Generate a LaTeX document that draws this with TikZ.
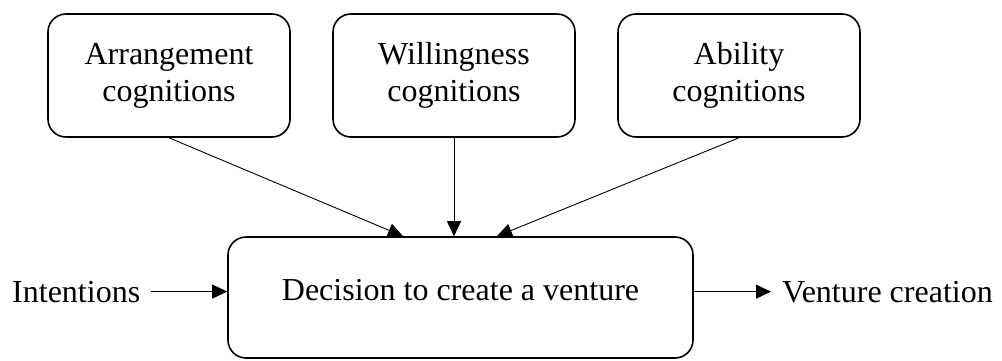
\documentclass[tikz,border=0pt]{standalone}
\usepackage{fontspec}
\setmainfont{Liberation Serif}
\usetikzlibrary{arrows.meta,calc}
\begin{document}
\begin{tikzpicture}[x=1pt,y=-1pt,
  txt/.style={font=\fontsize{32}{37}\selectfont},
  boxframe/.style={draw,line width=1.6pt,rounded corners=18pt},
  cogbox/.style={boxframe,txt,minimum width=242pt,minimum height=123pt,
    align=center,inner sep=0pt},
  lbl/.style={txt,inner xsep=11pt,inner ysep=0pt},
  conn/.style={line width=0.9pt,-{Triangle[length=15pt,width=14pt]}}]
\useasboundingbox (0,0) rectangle (1002,360);

% three kinds of cognitions
\node[cogbox] (arr) at (169,75.5) {Arrangement\\cognitions};
\node[cogbox] (wil) at (454,75.5) {Willingness\\cognitions};
\node[cogbox] (abl) at (739,75.5) {Ability\\cognitions};

% central decision
\node[boxframe,txt,minimum width=465pt,minimum height=121pt,
  text height=22pt,text depth=17pt] (dec) at (460.5,297.5)
  {Decision to create a venture};

% input and output labels
\node[lbl,anchor=base west] (int) at (1,302) {Intentions};
\node[lbl,anchor=base west] (vc) at (771,302) {Venture creation};

% connectors
\draw[conn] (arr.south) -- ($(dec.north)+(-57.5,0)$);
\draw[conn] (wil.south) -- (wil.south |- dec.north);
\draw[conn] (abl.south) -- ($(dec.north)+(36.5,0)$);
\draw[conn] (int.east) -- (int.east -| dec.west);
\draw[conn] (vc.west -| dec.east) -- (vc.west);
\end{tikzpicture}
\end{document}
